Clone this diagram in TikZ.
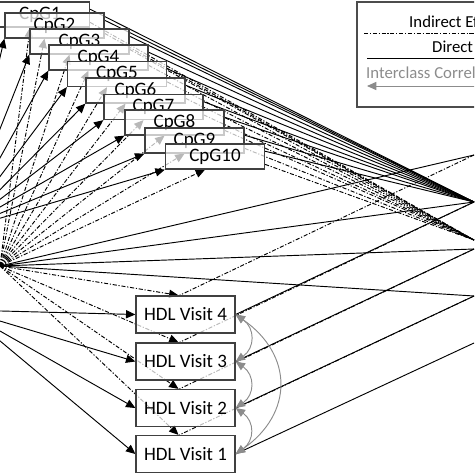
\documentclass[tikz,border=0pt]{standalone}
\usepackage{fontspec}
\setmainfont{Carlito}
\usetikzlibrary{arrows.meta}
\usetikzlibrary{calc}
\pgfdeclarelayer{background}
\pgfsetlayers{background,main}
\tikzset{cpgbox/.style = {draw=black!75, line width=1.1pt, fill=white, fill opacity=0.72,
                          text opacity=1, minimum width=2.97cm, minimum height=0.75cm,
                          inner sep=0pt, font=\fontsize{16.2}{18}\selectfont},
         hdlbox/.style = {cpgbox, minimum height=1.11cm},
         direct/.style = {line width=0.8pt},
         indirect/.style = {line width=0.8pt, dash pattern=on 3.5pt off 1.5pt on 1pt off 1.5pt},
         tip/.style = {-{Triangle[length=8pt,width=7pt]}},
         corr/.style = {draw=black!45, line width=0.8pt,
                        {Triangle[length=8pt,width=7pt]}-{Triangle[length=8pt,width=7pt]}},
         legtext/.style = {anchor=west, inner sep=0pt, font=\fontsize{14.3}{16}\selectfont}}
\definecolor{corrgray}{gray}{0.55}

\begin{document}
\begin{tikzpicture}[x=0.03cm, y=-0.03cm]
  \clip (0,0) rectangle (474,474);
  % end points of the paths that leave the picture
  \coordinate (expo) at (0,266);
  \coordinate (cov) at (-40,230);
  \coordinate (adj) at (-37,310);
  \coordinate (med) at (474,240);
  \foreach \y [count=\i] in {155,202,249,296,343}
    \coordinate (out\i) at (474,\y);

  % mediators
  \foreach \x/\y [count=\i] in {40/14.5, 54.5/25.5, 79.5/41.5, 98.5/57.5, 117/74,
                                135.5/90.5, 153.5/107, 174.5/122.5, 194.5/140.5, 215/156.5}
    \node[cpgbox] (cpg\i) at (\x,\y) {CpG\i};

  % outcomes
  \foreach \y/\v in {314.5/4, 361.5/3, 408/2, 454/1}
    \node[hdlbox] (hdl\v) at (185.5,\y) {HDL Visit \v};

  \begin{pgfonlayer}{background}
    \foreach \i in {1,...,10} {
      \draw[direct, tip] (cov) -- (cpg\i.south west);
      \draw[indirect, tip] (expo) -- ($(cpg\i.south)+(-10,0)$);
      \draw[direct] ($(cpg\i.north east)!0.3!(cpg\i.south east)$) -- (out2);
      \draw[indirect] ($(cpg\i.north east)!0.8!(cpg\i.south east)$) -- (med);
    }
    \foreach \i in {1,...,4}
      \draw[direct] (expo) -- (out\i);
    \foreach \v in {1,...,4} {
      \draw[direct, tip] (adj) -- (hdl\v.west);
      \draw[indirect, tip] (expo) -- ($(hdl\v.north)+(-7,0)$);
    }
    \foreach \o/\v in {1/4, 2/3, 3/2, 4/1}
      \draw[indirect] (out\o) -- ($(hdl\v.north)+(-6,0)$);
    \foreach \o/\v in {2/4, 3/3, 4/2, 5/1}
      \draw[direct] (out\o) -- (hdl\v.east);
  \end{pgfonlayer}

  % interclass correlations
  \draw[corr] (hdl4.east) to[bend left=55, looseness=1.3] (hdl3.east);
  \draw[corr] (hdl3.east) to[bend left=55, looseness=1.3] (hdl2.east);
  \draw[corr] (hdl2.east) to[bend left=55, looseness=1.3] (hdl1.east);
  \draw[corr] (hdl4.east) to[bend left=55, looseness=1.3] (hdl1.east);

  % legend
  \draw[draw=black!70, line width=1.2pt] (357,2) rectangle (490,107);
  \node[legtext] (legind) at (409,22) {Indirect Effect};
  \coordinate (legia) at (364,33);
  \coordinate (legib) at (480,33);
  \draw[indirect] (legia) -- (legib);
  \node[legtext] (legdir) at (432,47) {Direct Effect};
  \coordinate (legda) at (367,58);
  \coordinate (legdb) at (480,58);
  \draw[direct] (legda) -- (legdb);
  \node[legtext, text=corrgray] (legcor) at (366,73) {Interclass Correlation};
  \coordinate (legca) at (480,86);
  \coordinate (legcb) at (367,86);
  \draw[corr, -{Triangle[length=8pt,width=7pt]}] (legca) -- (legcb);
\end{tikzpicture}
\end{document}
